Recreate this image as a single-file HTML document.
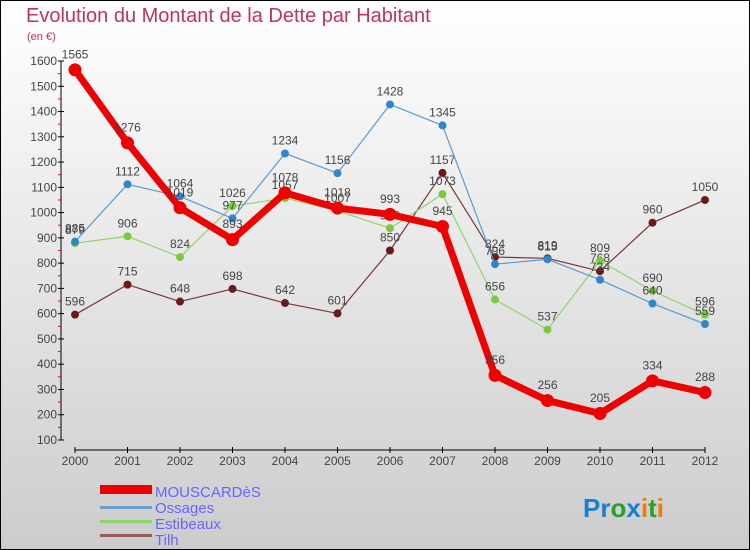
<!DOCTYPE html>
<html><head><meta charset="utf-8"><style>
body{margin:0}
svg{display:block;font-family:"Liberation Sans","DejaVu Sans",sans-serif}
</style></head><body>
<svg id="chart" width="750" height="550">
<defs><linearGradient id="bg" x1="0" y1="0" x2="0" y2="1"><stop offset="0" stop-color="#ffffff"/><stop offset="1" stop-color="#cccccc"/></linearGradient></defs>
<rect x="0.5" y="0.5" width="749" height="549" fill="url(#bg)" stroke="#000"/>
<text x="26" y="22" font-size="20" fill="#c0335c">Evolution du Montant de la Dette par Habitant</text>
<text x="27" y="40" font-size="11" fill="#c0335c">(en €)</text>
<g id="axes"></g><g id="series"></g>
<g font-size="15" fill="#6666ff">
<rect x="100" y="485" width="52" height="9" fill="#ee0000"/>
<text x="155" y="497">MOUSCARDèS</text>
<rect x="100" y="506" width="52" height="3" fill="#6b9fd0"/>
<text x="155" y="513">Ossages</text>
<rect x="100" y="520" width="52" height="3" fill="#92d36d"/>
<text x="155" y="529">Estibeaux</text>
<rect x="100" y="534" width="52" height="3" fill="#9a5a5a"/>
<text x="155" y="545">Tilh</text>
</g>
<text x="583" y="517" font-size="26" font-weight="bold"><tspan fill="#1a7fd0">Pr</tspan><tspan fill="#2aa02a">o</tspan><tspan fill="#1a7fd0">x</tspan><tspan fill="#f07a10">i</tspan><tspan fill="#2aa02a">t</tspan><tspan fill="#f07a10">i</tspan></text>
</svg>
<script>
const years=[2000,2001,2002,2003,2004,2005,2006,2007,2008,2009,2010,2011,2012];
const mouscardes=[1565,1276,1019,893,1078,1018,993,945,356,256,205,334,288];
const ossages=[885,1112,1064,977,1234,1156,1428,1345,796,815,734,640,559];
const estibeaux=[879,906,824,1026,1057,1007,938,1073,656,537,809,690,596];
const tilh=[596,715,648,698,642,601,850,1157,824,819,768,960,1050];
const yTicks=[100,200,300,400,500,600,700,800,900,1000,1100,1200,1300,1400,1500,1600];
const NS='http://www.w3.org/2000/svg';
const xS=i=>75+i*52.5;
const yS=v=>440-(v-100)*(379/1500);
function mk(tag,attrs,parent,txt){const e=document.createElementNS(NS,tag);for(const k in attrs)e.setAttribute(k,attrs[k]);if(txt!==undefined)e.textContent=txt;parent.appendChild(e);return e;}
const ax=document.getElementById('axes');
let e=mk('line',{x1:61,y1:yS(1600),x2:61,y2:440,stroke:'#000'},ax);


e=mk('line',{x1:75,y1:450,x2:705,y2:450,stroke:'#000'},ax);


yTicks.forEach((v,i)=>{
 mk('line',{x1:58,y1:yS(v),x2:64,y2:yS(v),stroke:'#000'},ax);
 if(i<yTicks.length-1)mk('line',{x1:58,y1:yS(v+50),x2:61,y2:yS(v+50),stroke:'#e00'},ax);
 const t=mk('text',{x:57,y:yS(v)+4,'font-size':12,fill:'#444','text-anchor':'end'},ax,v);
 
 
});
years.forEach((y,i)=>{
 mk('line',{x1:xS(i),y1:447,x2:xS(i),y2:453,stroke:'#000'},ax);
 const t=mk('text',{x:xS(i),y:465,'font-size':12,fill:'#444','text-anchor':'middle'},ax,y);
 
 
});
const sg=document.getElementById('series');
function draw(vals,name,color,lw,r,ptColor){
 const g=mk('g',{},sg);
 
 
 const l=mk('polyline',{points:vals.map((v,i)=>xS(i)+','+yS(v)).join(' '),fill:'none',stroke:color,'stroke-width':lw,'stroke-linejoin':'round'},g);
 
 
 vals.forEach((v,i)=>{
  const c=mk('circle',{cx:xS(i),cy:yS(v),r:r,fill:ptColor},g);
  
  
  const t=mk('text',{x:xS(i),y:yS(v)-r-5,'font-size':12,fill:'#444','text-anchor':'middle'},g,v);
  
  
 });
}
draw(tilh,'tilh','#7a3535',1.2,4,'#6a1a1a');
draw(estibeaux,'estibeaux','#92d36d',1.2,4,'#7acb3a');
draw(ossages,'ossages','#5a9ad0',1.2,4,'#2f86cc');
draw(mouscardes,'mouscardes','#ee0000',7,6.5,'#ee0000');
</script>
</body></html>
